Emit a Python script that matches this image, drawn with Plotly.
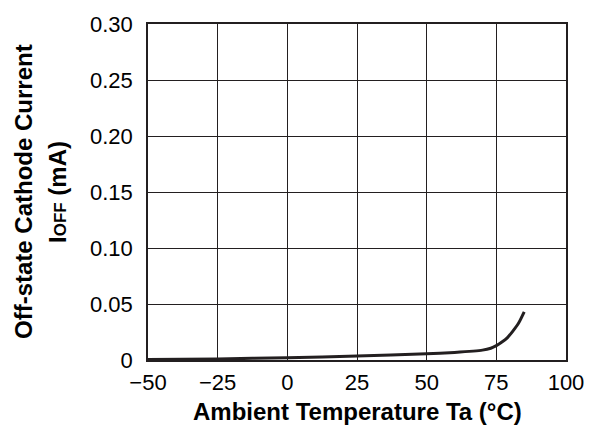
import plotly.graph_objects as go

temperature = [-50, -25, 0, 25, 50, 60, 70, 73, 75, 77, 79, 81, 83, 85]
current_mA = [0.0005, 0.001, 0.002, 0.0035, 0.0055, 0.0068, 0.0088, 0.0105,
              0.0128, 0.016, 0.020, 0.026, 0.033, 0.043]

x_ticks = [-50, -25, 0, 25, 50, 75, 100]
y_ticks = [0, 0.05, 0.10, 0.15, 0.20, 0.25, 0.30]
y_tick_labels = ["0", "0.05", "0.10", "0.15", "0.20", "0.25", "0.30"]

FONT = "Liberation Sans, Arial, Helvetica, sans-serif"

fig = go.Figure()
fig.add_trace(go.Scatter(
    x=temperature, y=current_mA, mode="lines",
    line=dict(color="#231f20", width=3, shape="spline", smoothing=0.6),
    showlegend=False, hoverinfo="skip",
))

fig.update_layout(
    width=597, height=427,
    margin=dict(l=148, r=31, t=19, b=67),
    paper_bgcolor="white", plot_bgcolor="white",
    font=dict(family=FONT, size=22, color="#000"),
    xaxis=dict(
        range=[-50, 100], tickvals=x_ticks, ticks="", showgrid=True,
        gridcolor="#231f20", gridwidth=1.3, zeroline=False,
        showline=True, linecolor="#231f20", linewidth=1.5, mirror=True,
        tickfont=dict(size=22), ticklabelstandoff=2,
    ),
    yaxis=dict(
        range=[0, 0.30], tickvals=y_ticks, ticktext=y_tick_labels, ticks="",
        showgrid=True, gridcolor="#231f20", gridwidth=1.3, zeroline=False,
        showline=True, linecolor="#231f20", linewidth=1.5, mirror=True,
        tickfont=dict(size=22), ticklabelstandoff=9,
    ),
    annotations=[
        dict(text="<b>Ambient Temperature Ta (°C)</b>", xref="paper", yref="paper",
             x=0.5, y=0, yshift=-51, showarrow=False, font=dict(size=24),
             xanchor="center", yanchor="middle"),
        dict(text="<b>Off-state Cathode Current</b>", xref="paper", yref="paper",
             x=0, xshift=-125, y=0.5, showarrow=False, textangle=-90,
             font=dict(size=24), xanchor="center", yanchor="middle"),
        dict(text="<b>I<span style='font-size:17px'>OFF</span> (mA)</b>",
             xref="paper", yref="paper",
             x=0, xshift=-91, y=0.5, showarrow=False, textangle=-90,
             font=dict(size=24), xanchor="center", yanchor="middle"),
    ],
)

fig.write_html("out.html")
